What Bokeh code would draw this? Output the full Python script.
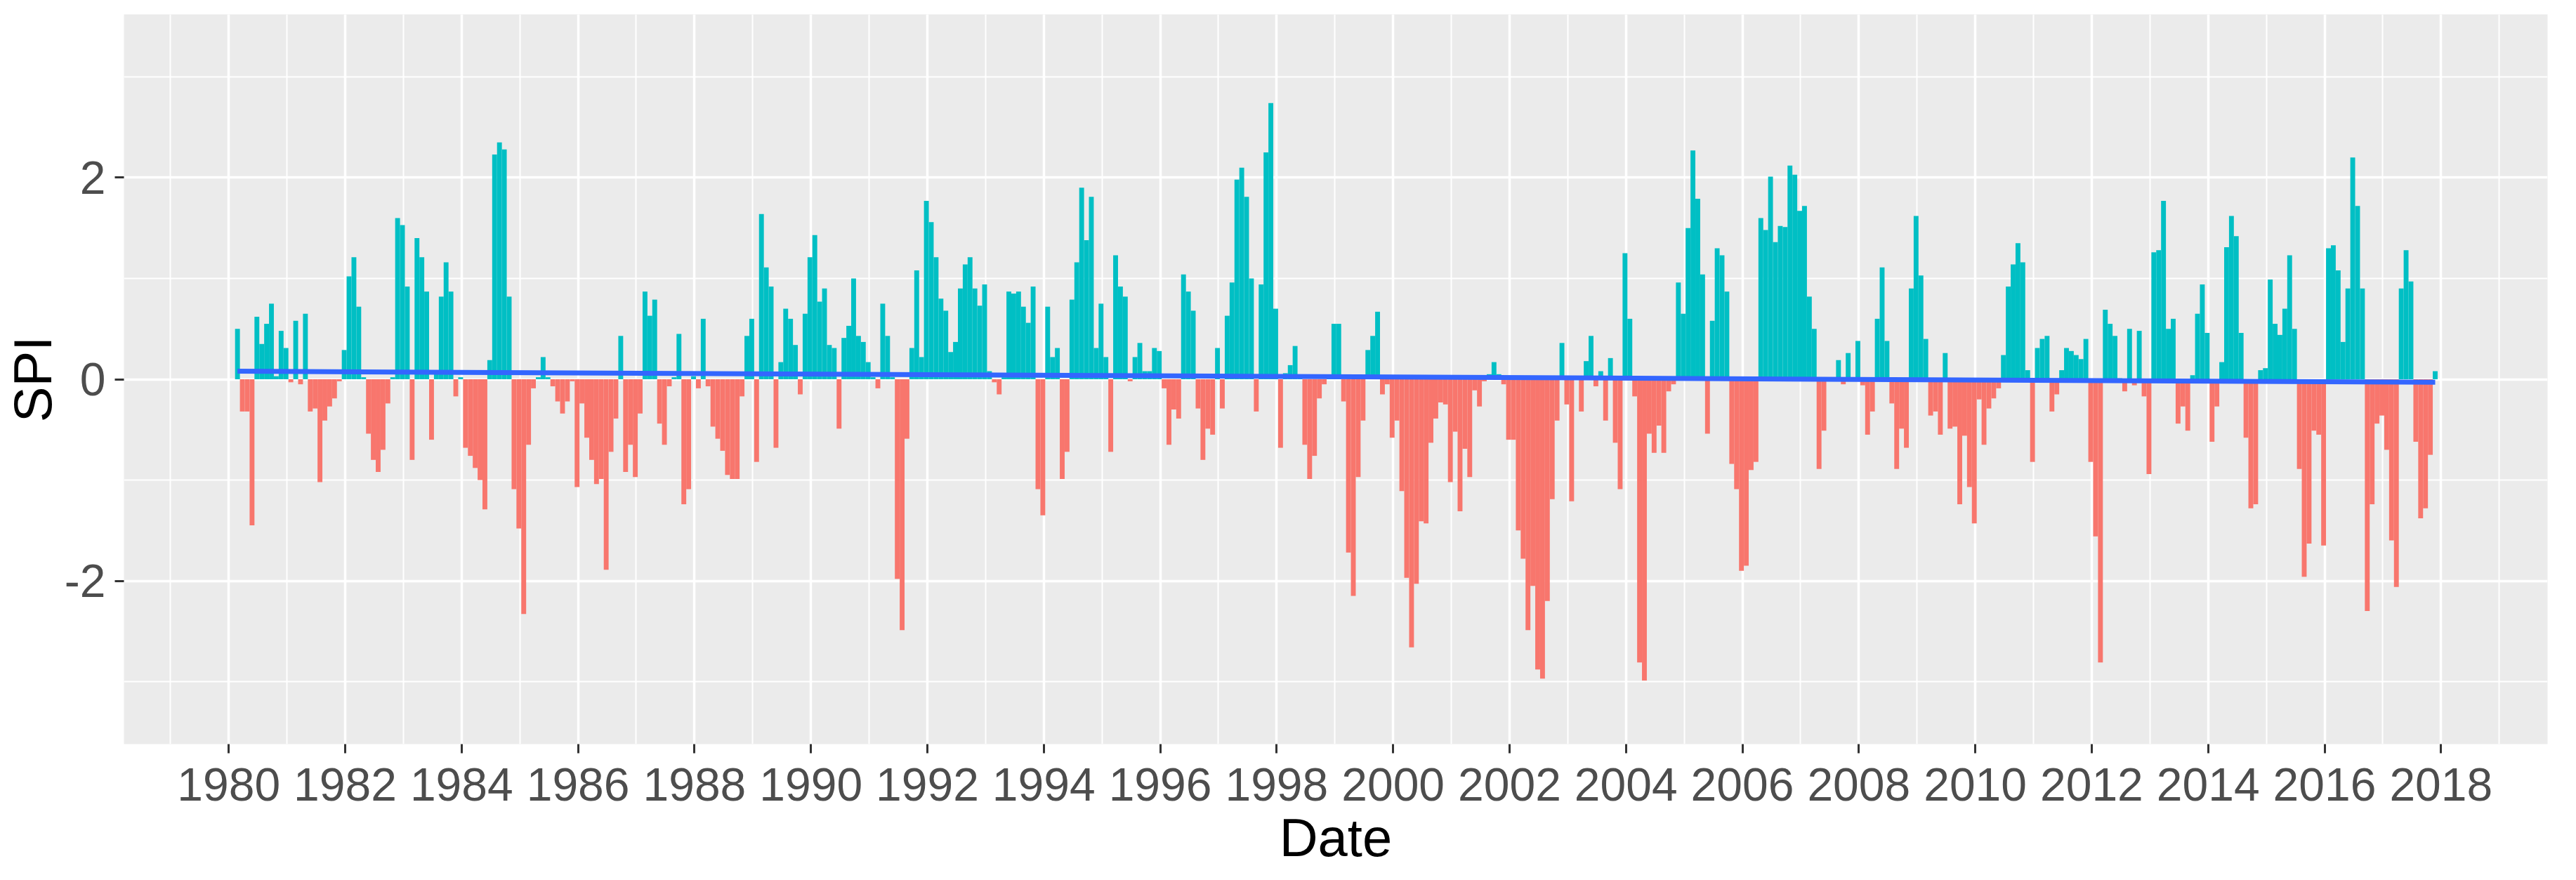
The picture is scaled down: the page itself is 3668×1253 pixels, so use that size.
import math
from bokeh.plotting import figure
from bokeh.models import FixedTicker, ColumnDataSource, Range1d
from bokeh.embed import file_html
from bokeh.resources import INLINE

# ---------------- data (monthly SPI) ----------------
first_year = 1980
first_month = 3   # series starts in March 1980

spi_1980 = [0.50, -0.32, -0.32, -1.45, 0.62, 0.35, 0.55, 0.75, 0.03, 0.48]
spi_1981 = [0.31, -0.03, 0.58, -0.05, 0.65, -0.32, -0.29, -1.02, -0.41, -0.27, -0.19, -0.02]
spi_1982 = [0.29, 1.02, 1.21, 0.72, 0.02, -0.54, -0.80, -0.92, -0.70, -0.24, 0.02, 1.60]
spi_1983 = [1.53, 0.92, -0.80, 1.40, 1.21, 0.87, -0.60, 0.05, 0.82, 1.16, 0.87, -0.17]
spi_1984 = [0.02, -0.68, -0.76, -0.88, -1.00, -1.29, 0.19, 2.23, 2.35, 2.28, 0.82, -1.09]
spi_1985 = [-1.48, -2.33, -0.65, -0.09, 0.02, 0.22, 0.02, -0.07, -0.22, -0.34, -0.22, -0.02]
spi_1986 = [-1.07, -0.24, -0.58, -0.80, -1.04, -0.99, -1.89, -0.72, -0.39, 0.43, -0.92, -0.65]
spi_1987 = [-0.97, -0.34, 0.87, 0.63, 0.79, -0.44, -0.65, -0.07, 0.02, 0.45, -1.24, -1.09]
spi_1988 = [0.03, -0.09, 0.60, -0.07, -0.47, -0.59, -0.71, -0.95, -0.99, -0.99, -0.17, 0.43]
spi_1989 = [0.60, -0.82, 1.64, 1.11, 0.92, -0.68, 0.17, 0.70, 0.60, 0.34, -0.15, 0.65]
spi_1990 = [1.21, 1.43, 0.77, 0.90, 0.34, 0.31, -0.49, 0.41, 0.53, 1.00, 0.43, 0.37]
spi_1991 = [0.17, 0.02, -0.09, 0.75, 0.43, 0.02, -1.98, -2.49, -0.59, 0.31, 1.08, 0.22]
spi_1992 = [1.77, 1.56, 1.21, 0.80, 0.68, 0.27, 0.37, 0.90, 1.14, 1.21, 0.90, 0.73]
spi_1993 = [0.94, 0.08, -0.03, -0.15, 0.02, 0.87, 0.85, 0.87, 0.72, 0.56, 0.92, -1.09]
spi_1994 = [-1.35, 0.72, 0.22, 0.31, -0.99, -0.72, 0.79, 1.16, 1.90, 1.38, 1.81, 0.31]
spi_1995 = [0.75, 0.22, -0.72, 1.23, 0.92, 0.82, -0.02, 0.22, 0.36, 0.08, 0.08, 0.31]
spi_1996 = [0.28, -0.09, -0.65, -0.30, -0.39, 1.04, 0.87, 0.68, -0.29, -0.80, -0.49, -0.55]
spi_1997 = [0.31, -0.29, 0.63, 0.96, 1.98, 2.10, 1.81, 1.00, -0.32, 0.94, 2.25, 2.74]
spi_1998 = [0.70, -0.68, 0.06, 0.14, 0.33, 0.02, -0.65, -0.99, -0.76, -0.19, -0.05, 0.02]
spi_1999 = [0.55, 0.55, -0.22, -1.72, -2.15, -0.97, -0.41, 0.29, 0.43, 0.67, -0.15, -0.05]
spi_2000 = [-0.58, -0.41, -1.11, -1.97, -2.66, -2.03, -1.41, -1.43, -0.63, -0.39, -0.23, -0.25]
spi_2001 = [-1.02, -0.52, -1.31, -0.69, -0.97, -0.11, -0.27, -0.02, 0.05, 0.17, 0.05, -0.05]
spi_2002 = [-0.60, -0.60, -1.50, -1.78, -2.49, -2.05, -2.88, -2.97, -2.20, -1.19, -0.41, 0.36]
spi_2003 = [-0.25, -1.21, 0.02, -0.32, 0.18, 0.43, -0.07, 0.08, -0.41, 0.21, -0.63, -1.09]
spi_2004 = [1.25, 0.60, -0.17, -2.81, -2.99, -0.54, -0.73, -0.46, -0.73, -0.12, -0.05, 0.96]
spi_2005 = [0.65, 1.50, 2.27, 1.79, 1.04, -0.54, 0.58, 1.30, 1.23, 0.87, -0.84, -1.09]
spi_2006 = [-1.90, -1.85, -0.90, -0.82, 1.60, 1.48, 2.01, 1.36, 1.52, 1.51, 2.12, 2.03]
spi_2007 = [1.67, 1.72, 0.82, 0.50, -0.89, -0.51, 0.02, 0.02, 0.19, -0.05, 0.26, 0.02]
spi_2008 = [0.38, -0.06, -0.55, -0.32, 0.60, 1.11, 0.38, -0.24, -0.89, -0.49, -0.68, 0.90]
spi_2009 = [1.62, 1.03, 0.40, -0.36, -0.32, -0.55, 0.26, -0.49, -0.47, -1.24, -0.56, -1.07]
spi_2010 = [-1.43, -0.20, -0.65, -0.29, -0.19, -0.09, 0.24, 0.92, 1.14, 1.35, 1.16, 0.09]
spi_2011 = [-0.82, 0.31, 0.40, 0.43, -0.32, -0.15, 0.09, 0.31, 0.28, 0.24, 0.20, 0.40]
spi_2012 = [-0.82, -1.56, -2.81, 0.69, 0.55, 0.43, 0.01, -0.12, 0.50, -0.06, 0.48, -0.17]
spi_2013 = [-0.94, 1.26, 1.28, 1.77, 0.50, 0.60, -0.44, -0.27, -0.51, 0.04, 0.65, 0.94]
spi_2014 = [0.46, -0.62, -0.27, 0.17, 1.31, 1.62, 1.42, 0.46, -0.58, -1.28, -1.24, 0.09]
spi_2015 = [0.11, 0.99, 0.55, 0.44, 0.70, 1.23, 0.50, -0.89, -1.96, -1.63, -0.51, -0.55]
spi_2016 = [-1.65, 1.30, 1.33, 1.08, 0.37, 0.90, 2.20, 1.72, 0.90, -2.30, -1.24, -0.44]
spi_2017 = [-0.36, -0.70, -1.60, -2.06, 0.90, 1.28, 0.97, -0.62, -1.38, -1.28, -0.75, 0.08]

spi_by_year = [
    spi_1980, spi_1981, spi_1982, spi_1983, spi_1984, spi_1985, spi_1986, spi_1987,
    spi_1988, spi_1989, spi_1990, spi_1991, spi_1992, spi_1993, spi_1994, spi_1995,
    spi_1996, spi_1997, spi_1998, spi_1999, spi_2000, spi_2001, spi_2002, spi_2003,
    spi_2004, spi_2005, spi_2006, spi_2007, spi_2008, spi_2009, spi_2010, spi_2011,
    spi_2012, spi_2013, spi_2014, spi_2015, spi_2016, spi_2017,
]

# linear trend (geom_smooth lm) read at the first and last month
trend_start = 0.08
trend_end = -0.03

x_tick_years = list(range(1980, 2019, 2))
x_minor_years = list(range(1979, 2020, 2))
y_ticks = [-2, 0, 2]
y_minor = [-3, -1, 1, 3]

# ---------------- build series ----------------
xs, ys = [], []
for k, vals in enumerate(spi_by_year):
    year = first_year + k
    m0 = first_month if k == 0 else 1
    for j, v in enumerate(vals):
        month = m0 + j
        xs.append(year + (month - 1.2) / 12.0)
        ys.append(v)

POS = "#00BFC4"
NEG = "#F8766D"
colors = [POS if v > 0 else NEG for v in ys]
src = ColumnDataSource(dict(x=xs, top=ys, color=colors))

FONT = "Liberation Sans"
W, H = 3652, 1237
X0, X1 = 1978.20, 2019.83

p = figure(
    width=W, height=H,
    x_range=Range1d(X0, X1), y_range=Range1d(-3.62, 3.62),
    output_backend="svg", toolbar_location=None,
    min_border_left=174, min_border_right=25, min_border_top=20, min_border_bottom=175,
    background_fill_color="#EBEBEB", border_fill_color="white",
    outline_line_color=None,
    x_axis_label="Date", y_axis_label="SPI",
)

p.xaxis.ticker = FixedTicker(ticks=x_tick_years, minor_ticks=x_minor_years)
p.yaxis.ticker = FixedTicker(ticks=y_ticks, minor_ticks=y_minor)
p.xaxis.major_label_overrides = {t: str(t) for t in x_tick_years}
p.yaxis.major_label_overrides = {t: str(t) for t in y_ticks}

for g in (p.xgrid, p.ygrid):
    g.grid_line_color = "white"
    g.grid_line_width = 3.5
    g.minor_grid_line_color = "white"
    g.minor_grid_line_width = 2

for ax in (p.xaxis, p.yaxis):
    ax.axis_line_color = None
    ax.major_tick_line_color = "#333333"
    ax.major_tick_line_width = 3
    ax.major_tick_out = 13
    ax.major_tick_in = 0
    ax.minor_tick_line_color = None
    ax.major_label_text_font = FONT
    ax.major_label_text_font_size = "66px"
    ax.major_label_text_color = "#4D4D4D"
    ax.axis_label_text_font = FONT
    ax.axis_label_text_font_size = "76px"
    ax.axis_label_text_font_style = "normal"
    ax.axis_label_text_color = "black"

p.xaxis.major_label_standoff = 21
p.yaxis.major_label_standoff = 13
p.xaxis.axis_label_standoff = 7
p.yaxis.axis_label_standoff = 0

p.vbar(x="x", top="top", bottom=0, width=1.0 / 12.0, source=src,
       fill_color="color", line_color=None)

p.line(x=[xs[0], xs[-1]], y=[trend_start, trend_end], line_color="#3366FF", line_width=7)

open("out.html", "w").write(file_html(p, INLINE))
